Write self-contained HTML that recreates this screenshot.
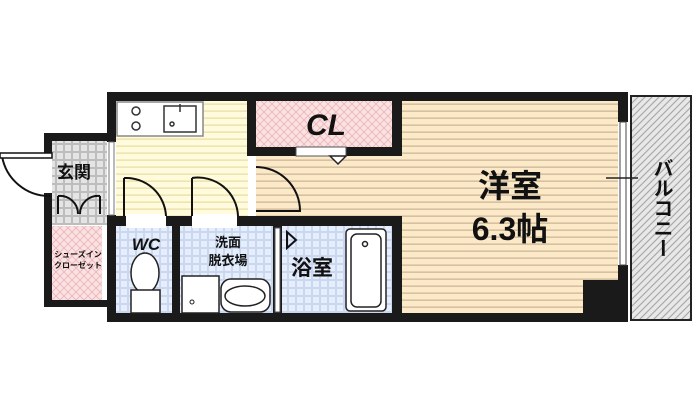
<!DOCTYPE html>
<html><head><meta charset="utf-8"><style>
html,body{margin:0;padding:0;background:#fff;width:700px;height:415px;overflow:hidden}
svg{display:block}
text{font-family:"Liberation Sans","Noto Sans CJK JP",sans-serif;font-weight:bold;fill:#111}
</style></head><body>
<svg width="700" height="415" viewBox="0 0 700 415" xmlns="http://www.w3.org/2000/svg">
<defs>
<pattern id="ys" width="8" height="7" patternUnits="userSpaceOnUse"><rect width="8" height="7" fill="#fffbdc"/><rect y="5.5" width="8" height="1.2" fill="#e6dca0"/></pattern>
<pattern id="bs" width="8" height="7" patternUnits="userSpaceOnUse"><rect width="8" height="7" fill="#fbe9c8"/><rect y="5.5" width="8" height="1.3" fill="#cdb89a"/></pattern>
<pattern id="pk" width="8" height="8" patternUnits="userSpaceOnUse"><rect width="8" height="8" fill="#fbe2e2"/><path d="M0 0L8 8M8 0L0 8" stroke="#e8b4b8" stroke-width="0.8"/></pattern>
<pattern id="bl" width="8" height="8" patternUnits="userSpaceOnUse"><rect width="8" height="8" fill="#c9d8f0"/><rect x="1" y="1" width="6" height="6" fill="#e6eefb"/></pattern>
<pattern id="gr" width="8" height="8" patternUnits="userSpaceOnUse"><rect width="8" height="8" fill="#bdbdbd"/><rect x="1" y="1" width="6" height="6" fill="#e4e4e4"/></pattern>
<pattern id="hz" width="7" height="7" patternUnits="userSpaceOnUse"><rect width="7" height="7" fill="#e8e8e8"/><path d="M-1 8L8 -1M-1 1L1 -1M6 8L8 6" stroke="#aaa" stroke-width="1.2"/></pattern>
</defs>

<rect x="116" y="101" width="132" height="116" fill="url(#ys)"/>
<rect x="256" y="156" width="362" height="60" fill="url(#bs)"/>
<rect x="400" y="101" width="218" height="213" fill="url(#bs)"/>
<rect x="256" y="101" width="136" height="46" fill="url(#pk)"/>
<rect x="52" y="141" width="55" height="84" fill="url(#gr)"/>
<rect x="52" y="226" width="50" height="74" fill="url(#pk)"/>
<rect x="116" y="226" width="56" height="88" fill="url(#bl)"/>
<rect x="180" y="226" width="93" height="88" fill="url(#bl)"/>
<rect x="282" y="226" width="110" height="88" fill="url(#bl)"/>
<rect x="631" y="96" width="60" height="224" fill="url(#hz)" stroke="#222" stroke-width="2"/>

<g fill="#1a1a1a">
<rect x="107" y="92" width="521" height="9"/>
<rect x="107" y="92" width="9" height="50"/>
<rect x="107" y="215" width="9" height="107"/>
<rect x="107" y="313" width="521" height="9"/>
<rect x="618" y="92" width="10" height="30"/>
<rect x="618" y="265" width="10" height="57"/>
<rect x="247" y="92" width="9" height="60"/>
<rect x="247" y="147" width="155" height="9"/>
<rect x="392" y="92" width="10" height="64"/>
<rect x="116" y="216" width="286" height="10"/>
<rect x="392" y="216" width="10" height="106"/>
<rect x="172" y="216" width="8" height="106"/>
<rect x="273" y="216" width="9" height="106"/>
<rect x="583" y="280" width="36" height="34"/>
<rect x="44" y="133" width="72" height="8"/>
<rect x="44" y="133" width="8" height="20"/>
<rect x="44" y="193" width="8" height="114"/>
<rect x="44" y="300" width="72" height="7"/>
</g>
<rect x="109" y="142" width="5" height="73" fill="#fff" stroke="#777" stroke-width="1"/>
<rect x="275" y="228" width="5" height="84" fill="#fff" stroke="#555" stroke-width="1"/>
<rect x="620" y="122" width="6" height="143" fill="#fff" stroke="#444" stroke-width="1"/>
<line x1="606" y1="178" x2="638" y2="178" stroke="#222" stroke-width="1.5"/>
<rect x="126" y="214" width="40" height="14" fill="#fff"/>
<rect x="192" y="214" width="45" height="14" fill="#fff"/>
<rect x="248" y="160" width="8" height="56" fill="#fff"/>
<rect x="296" y="147" width="50" height="9" fill="#fff" stroke="#555"/>
<path d="M330 156 L346 156 L338 164 Z" fill="#fff" stroke="#222" stroke-width="1.5"/>
<g fill="none" stroke="#111" stroke-width="2">
<path d="M124 178 L124 216 M124 178 A40 40 0 0 1 166 216"/>
<path d="M192 178 L192 216 M192 178 A40 40 0 0 1 238 216"/>
<path d="M256 167 A44 44 0 0 1 300 211 L256 211"/>
<path d="M52 156 L2 156 M2 156 A48 48 0 0 0 50 196"/>
<path d="M58 196 L58 214 M58 196 A18 18 0 0 1 78 214 M100 196 L100 214 M100 196 A18 18 0 0 0 80 214"/>
<path d="M287 232 L296 240 L287 248 Z"/>
</g>
<rect x="0" y="153" width="52" height="5" fill="#fff" stroke="#111" stroke-width="1.5"/>
<rect x="117" y="102" width="86" height="34" fill="#fff" stroke="#888" stroke-width="1.5"/>
<g fill="none" stroke="#333" stroke-width="1.5">
<circle cx="136" cy="111" r="4"/><circle cx="136" cy="126" r="4"/>
<rect x="164" y="106" width="32" height="26"/>
<circle cx="172" cy="124" r="2"/>
<path d="M180 104 L180 112"/>
</g>
<g fill="#fff" stroke="#222" stroke-width="1.5">
<ellipse cx="145" cy="273" rx="14" ry="20"/>
<rect x="131" y="290" width="29" height="23"/>
<rect x="182" y="276" width="37" height="37"/>
<rect x="221" y="279" width="49" height="33" rx="10"/>
<ellipse cx="245" cy="296" rx="20" ry="10"/>
<rect x="346" y="229" width="40" height="82" rx="4"/>
<rect x="351" y="234" width="30" height="73" rx="6"/>
<circle cx="365" cy="244" r="2.5"/>
</g>
<circle cx="192" cy="302" r="2" fill="none" stroke="#222"/>
<text x="326" y="135" font-size="30" font-style="italic" text-anchor="middle" font-family="Liberation Sans,sans-serif">CL</text>
<text x="510" y="197" font-size="32" text-anchor="middle">洋室</text>
<text x="510" y="240" font-size="32" text-anchor="middle">6.3帖</text>
<text x="74" y="178" font-size="17" text-anchor="middle">玄関</text>
<text x="146" y="250" font-size="17" font-style="italic" text-anchor="middle">WC</text>
<text x="228" y="247" font-size="13" text-anchor="middle" font-weight="normal">洗面</text>
<text x="228" y="265" font-size="13" text-anchor="middle" font-weight="normal">脱衣場</text>
<text x="312" y="275" font-size="21" text-anchor="middle">浴室</text>
<text x="78" y="257" font-size="8" text-anchor="middle" font-weight="normal">シューズイン</text>
<text x="78" y="268" font-size="8" text-anchor="middle" font-weight="normal">クローゼット</text>
<text x="661" y="158" font-size="20" font-weight="normal" style="writing-mode:vertical-rl;text-orientation:upright">バルコニー</text>
</svg>
</body></html>
